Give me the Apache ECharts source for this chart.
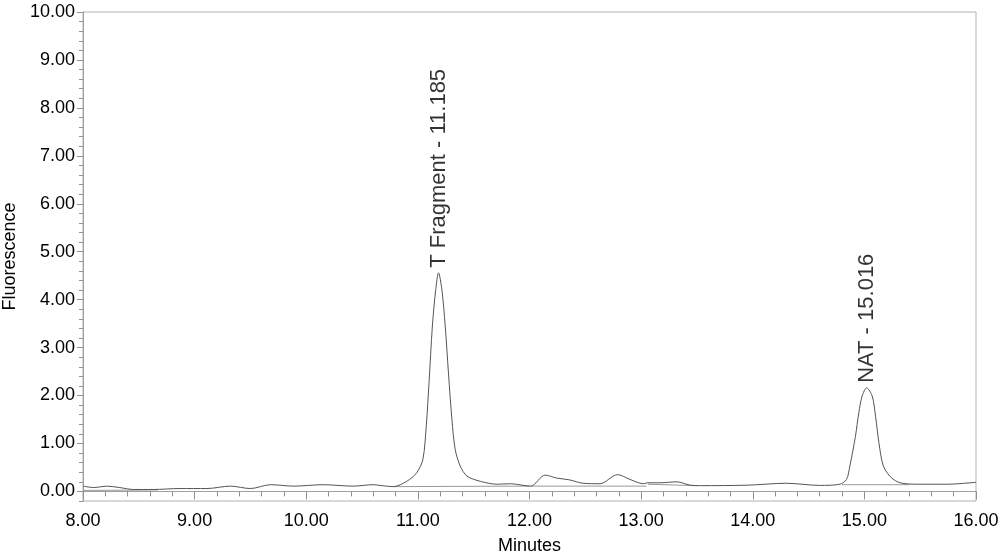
<!DOCTYPE html>
<html>
<head>
<meta charset="utf-8">
<script src="https://cdn.jsdelivr.net/npm/echarts@6/dist/echarts.min.js"></script>
<style>html,body{margin:0;padding:0;background:#fff;}#c{width:1000px;height:556px;}</style>
</head>
<body>
<div id="c"></div>
<script>
// Chromatogram trace (minutes, fluorescence)
var times = [8.00,8.10,8.21,8.33,8.45,8.63,8.87,9.11,9.32,9.50,9.68,9.89,10.15,10.42,10.60,10.66,10.78,10.90,10.99,11.045,11.075,11.10,11.13,11.16,11.185,11.215,11.245,11.274,11.305,11.334,11.379,11.44,11.56,11.71,11.83,12.01,12.14,12.24,12.36,12.48,12.63,12.79,12.90,13.02,13.06,13.17,13.32,13.44,13.53,13.95,14.30,14.60,14.78,14.84,14.87,14.92,14.95,14.98,15.02,15.07,15.10,15.13,15.17,15.24,15.32,15.47,15.74,16.00];
var signal = [0.11,0.08,0.11,0.08,0.04,0.04,0.06,0.06,0.11,0.06,0.14,0.11,0.14,0.11,0.14,0.125,0.10,0.21,0.39,0.67,1.36,2.27,3.45,4.21,4.56,4.21,3.45,2.47,1.50,0.88,0.53,0.32,0.21,0.15,0.16,0.11,0.34,0.28,0.24,0.17,0.16,0.35,0.25,0.16,0.18,0.18,0.20,0.13,0.12,0.13,0.17,0.125,0.15,0.25,0.53,1.15,1.64,1.99,2.16,1.99,1.57,1.02,0.53,0.29,0.18,0.15,0.15,0.19];
// Integration baselines (null = gap)
var baseTimes = [8.00,8.67,null,10.78,12.00,null,12.01,13.05,null,13.06,13.50,null,14.80,15.40];
var baseValues = [0.02,0.03,null,0.10,0.11,null,0.11,0.11,null,0.15,0.12,null,0.14,0.14];
// Peak annotations
var peakNames = ['T Fragment - 11.185','NAT - 15.016'];
var peakTimes = [11.185,15.02];
var peakHeights = [4.56,2.16];
// Axis ticks
var xTicks = [8,9,10,11,12,13,14,15,16];
var yTicks = [0,1,2,3,4,5,6,7,8,9,10];

var yMinor = [];
for (var i = -1; i <= 50; i++) { if (i % 5 !== 0) yMinor.push(+(i * 0.2).toFixed(1)); }

var trace = times.map(function (t, i) { return [t, signal[i]]; });
var base = baseTimes.map(function (t, i) { return t === null ? [null, null] : [t, baseValues[i]]; });
var peaks = peakTimes.map(function (t, i) { return { value: [t, peakHeights[i]], name: peakNames[i] }; });

var FONT = '"Liberation Sans", Arial, sans-serif';
var chart = echarts.init(document.getElementById('c'), null, { renderer: 'canvas' });
chart.setOption({
  animation: false,
  backgroundColor: '#fff',
  grid: { left: 83, right: 24, top: 12, bottom: 55, show: true, borderColor: '#b0b0b0', borderWidth: 1,
    containLabel: false, outerBoundsMode: 'none' },
  xAxis: {
    type: 'value', min: 8, max: 16, interval: 1,
    name: 'Minutes', nameLocation: 'middle', nameGap: 36,
    nameTextStyle: { fontFamily: FONT, fontSize: 18, color: '#000' },
    axisLine: { show: true, lineStyle: { color: '#a0a0a0' } },
    axisTick: { show: true, length: 8, lineStyle: { color: '#909090' } },
    minorTick: { show: true, splitNumber: 5, length: 5, lineStyle: { color: '#909090' } },
    splitLine: { show: false },
    axisLabel: { customValues: xTicks, fontFamily: FONT, fontSize: 18, color: '#000', margin: 11,
      formatter: function (v) { return v.toFixed(2); } }
  },
  yAxis: [{
    type: 'value', min: -0.2, max: 10,
    name: 'Fluorescence', nameLocation: 'middle', nameGap: 59,
    nameTextStyle: { fontFamily: FONT, fontSize: 18, color: '#000' },
    axisLine: { show: true, lineStyle: { color: '#a0a0a0' } },
    axisTick: { show: true, customValues: yTicks, length: 6, lineStyle: { color: '#909090' } },
    splitLine: { show: false },
    axisLabel: { customValues: yTicks, fontFamily: FONT, fontSize: 18, color: '#000', margin: 8,
      formatter: function (v) { return v.toFixed(2); } }
  }, {
    type: 'value', min: -0.2, max: 10, position: 'left',
    axisLine: { show: false },
    axisTick: { show: true, customValues: yMinor, length: 4, lineStyle: { color: '#909090' } },
    axisLabel: { show: false },
    splitLine: { show: false }
  }],
  series: [{
    type: 'line', data: base, yAxisIndex: 0, showSymbol: false, connectNulls: false,
    lineStyle: { color: '#9a9a9a', width: 1 }, z: 2
  }, {
    type: 'line', data: trace, yAxisIndex: 0, showSymbol: false, smooth: 0.3,
    lineStyle: { color: '#555', width: 1 }, z: 3
  }, {
    type: 'scatter', data: peaks, yAxisIndex: 0, symbolSize: 0, z: 4,
    label: { show: true, position: 'top', distance: 5, rotate: 90, align: 'left', verticalAlign: 'middle',
      fontFamily: FONT, fontSize: 22, color: '#000', formatter: function (p) { return p.name; } }
  }]
});
</script>
</body>
</html>
